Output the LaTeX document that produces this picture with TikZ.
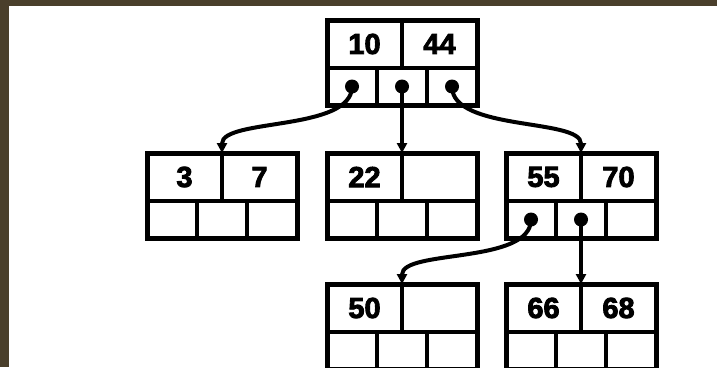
\documentclass[tikz,border=0pt]{standalone}
\usepackage{fontspec}
\newfontfamily\keyfont{Liberation Sans}[BoldFeatures={FakeBold=3}]
\usepackage{tikz}
\usetikzlibrary{arrows.meta,positioning,fit}
\definecolor{frame}{RGB}{74,63,43}

\begin{document}
\begin{tikzpicture}[x=1pt,y=-1pt,>={Triangle[length=10pt,width=10pt]}]
  \tikzstyle{key}=[draw,line width=4pt,minimum width=75pt,minimum height=48pt,outer sep=0pt,inner sep=0pt,font=\fontsize{29}{29}\selectfont\keyfont\bfseries]
  \tikzstyle{ptr}=[draw,line width=4pt,minimum width=50pt,minimum height=37pt,outer sep=0pt,inner sep=0pt]
  \tikzstyle{dot}=[circle,fill,inner sep=0pt,minimum size=14pt]
  \tikzstyle{link}=[->,line width=4pt]
  \tikzstyle{box}=[draw,line width=5pt,inner sep=0pt,outer sep=0pt]
  \clip (0,0) rectangle (717,367);
  \fill[frame] (0,0) rectangle (717,367);
  \fill[white] (9,6) rectangle (717,367);
  % tree nodes: name / left / top / keys
  \foreach \n/\x/\y/\a/\b in {r/327/20/10/44, c1/147/153/3/7, c2/327/153/22/,
      c3/506/153/55/70, g1/327/284/50/, g2/506/284/66/68}{
    \node[key,anchor=north west] (\n-k1) at (\x,\y) {\a};
    \node[key,right=0pt of \n-k1] (\n-k2) {\b};
    \node[ptr,anchor=north west] (\n-p1) at (\n-k1.south west) {};
    \node[ptr,right=0pt of \n-p1] (\n-p2) {};
    \node[ptr,right=0pt of \n-p2] (\n-p3) {};
    \node[box,fit=(\n-k1)(\n-p3)] (\n) {};
  }
  \node[dot] (r-d1) at (r-p1) {};
  \node[dot] (r-d2) at (r-p2) {};
  \node[dot] (r-d3) at (r-p3) {};
  \node[dot] (c3-d1) at (c3-p1) {};
  \node[dot] (c3-d2) at (c3-p2) {};
  \draw[link] (r-d1.center) .. controls +(0,45) and +(0,-35) .. (c1-k1.north east);
  \draw[link] (r-d2.center) -- (c2-k1.north east);
  \draw[link] (r-d3.center) .. controls +(0,45) and +(0,-35) .. (c3-k1.north east);
  \draw[link] (c3-d1.center) .. controls +(0,45) and +(0,-35) .. (g1-k1.north east);
  \draw[link] (c3-d2.center) -- (g2-k1.north east);
\end{tikzpicture}
\end{document}
